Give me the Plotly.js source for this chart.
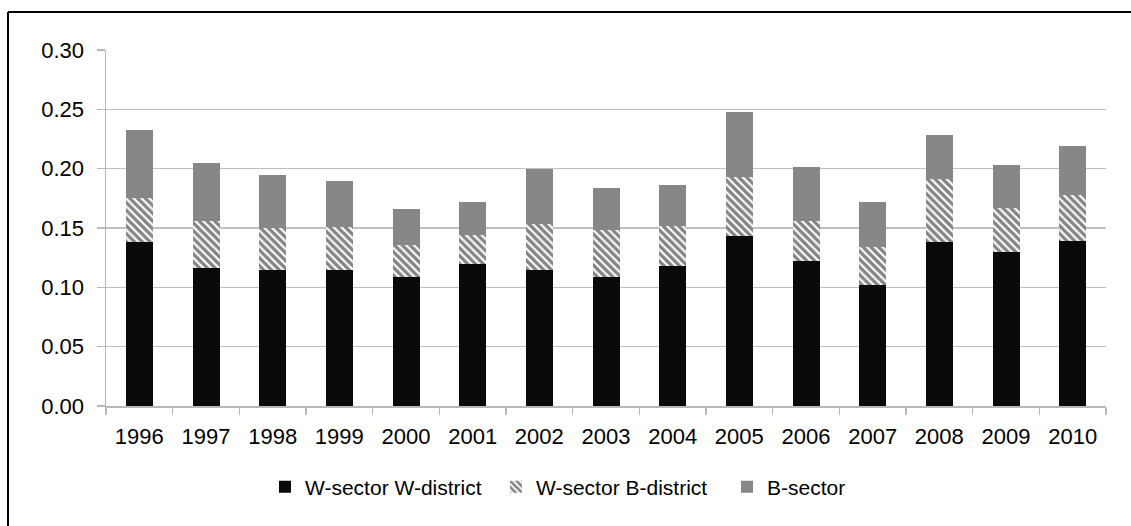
<!DOCTYPE html>
<html>
<head>
<meta charset="utf-8">
<script src="https://cdn.plot.ly/plotly-3.0.1.min.js"></script>
<style>html,body{margin:0;padding:0;background:#fff;}#chart{width:1131px;height:526px;}</style>
</head>
<body>
<div id="chart"></div>
<script>
const years = ['1996','1997','1998','1999','2000','2001','2002','2003','2004','2005','2006','2007','2008','2009','2010'];
const wSectorWDistrict = [0.138,0.116,0.115,0.115,0.109,0.120,0.115,0.109,0.118,0.143,0.122,0.102,0.138,0.130,0.139];
const wSectorBDistrict = [0.037,0.040,0.035,0.036,0.027,0.024,0.038,0.039,0.034,0.050,0.034,0.032,0.053,0.037,0.039];
const bSector = [0.058,0.049,0.045,0.039,0.030,0.028,0.047,0.036,0.034,0.055,0.045,0.038,0.037,0.036,0.041];
const seriesNames = ['W-sector W-district','W-sector B-district','B-sector'];

const traces = [
  {type:'bar', name:seriesNames[0], x:years, y:wSectorWDistrict,
   marker:{color:'#0a0a0a', line:{width:0}}},
  {type:'bar', name:seriesNames[1], x:years, y:wSectorBDistrict,
   marker:{color:'#ffffff', line:{width:0},
     pattern:{shape:'\\', fgcolor:'#0a0a0a', bgcolor:'#ffffff', size:5.5, solidity:0.6, fillmode:'overlay'}}},
  {type:'bar', name:seriesNames[2], x:years, y:bSector,
   marker:{color:'#878787', line:{width:0}}}
];

const L=106, R=25, T=50, B=120, W=1131, H=526;
const pw = W-L-R, ph = H-T-B;
const px = v => (v-L)/pw;
const py = v => (H-B-v)/ph;

const layout = {
  width:W, height:H,
  margin:{l:L, r:R, t:T, b:B, pad:0},
  barmode:'stack',
  bargap:0.595,
  paper_bgcolor:'#ffffff',
  plot_bgcolor:'#ffffff',
  font:{family:'Liberation Sans, Arial, sans-serif', color:'#000000', size:22},
  showlegend:true,
  legend:{orientation:'h', x:px(265), xanchor:'left', y:py(487), yanchor:'middle',
    entrywidth:186, entrywidthmode:'pixels',
    font:{size:21, color:'#000'}, traceorder:'normal', bgcolor:'rgba(0,0,0,0)'},
  xaxis:{type:'category', showgrid:false, showline:true, linecolor:'#b8b8b8', linewidth:1.5,
    ticks:'outside', tickson:'boundaries', ticklen:7, tickcolor:'#b8b8b8', tickwidth:1.5,
    tickfont:{size:22}, zeroline:false, ticklabelstandoff:10, fixedrange:true},
  yaxis:{range:[0,0.30], dtick:0.05, tickformat:'.2f', showgrid:true, gridcolor:'#c0c0c0', gridwidth:1.5,
    showline:true, linecolor:'#b8b8b8', linewidth:1.5, ticks:'outside', ticklen:8, tickcolor:'#b8b8b8', tickwidth:1.5,
    tickfont:{size:22}, zeroline:false, ticklabelstandoff:8, fixedrange:true},
  shapes:[
    {type:'line', xref:'paper', yref:'paper', x0:px(8), x1:px(8), y0:py(12), y1:py(530), line:{color:'#000', width:2}},
    {type:'line', xref:'paper', yref:'paper', x0:px(8), x1:px(1135), y0:py(12), y1:py(12), line:{color:'#000', width:2}}
  ]
};

Plotly.newPlot('chart', traces, layout, {displayModeBar:false, staticPlot:true});
</script>
</body>
</html>
